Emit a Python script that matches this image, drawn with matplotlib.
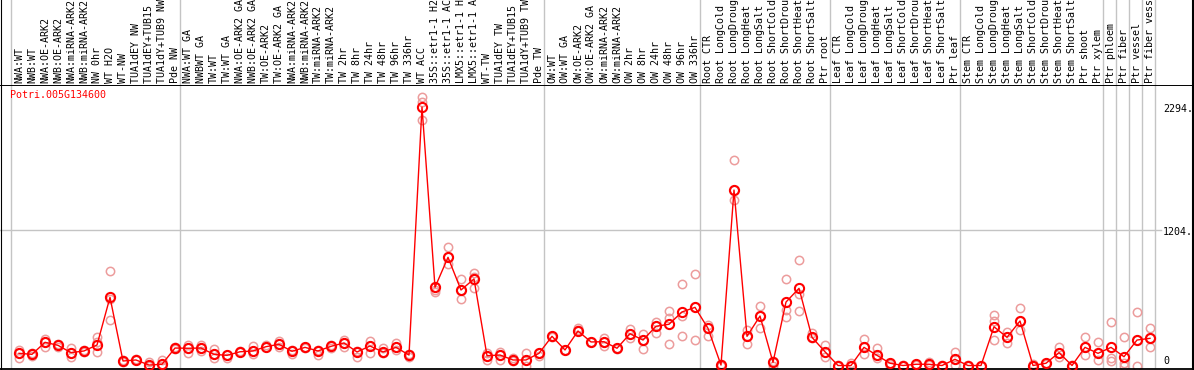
import matplotlib
matplotlib.use("Agg")
import matplotlib.pyplot as plt
from matplotlib.lines import Line2D

gene = "Potri.005G134600"

labels = [
    "NWA:WT", "NWB:WT", "NWA:OE-ARK2", "NWB:OE-ARK2", "NWA:miRNA-ARK2", "NWB:miRNA-ARK2",
    "NW 0hr", "WT H2O", "WT-NW", "TUA1dEY NW", "TUA1dEY+TUB15 NW", "TUA1dY+TUB9 NW", "Pde NW",
    "NWA:WT GA", "NWBWT GA", "TW:WT", "TW:WT GA", "NWA:OE-ARK2 GA", "NWB:OE-ARK2 GA",
    "TW:OE-ARK2", "TW:OE-ARK2 GA", "NWA:miRNA-ARK2", "NWB:miRNA-ARK2", "TW:miRNA-ARK2",
    "TW:miRNA-ARK2", "TW 2hr", "TW 8hr", "TW 24hr", "TW 48hr", "TW 96hr", "TW 336hr",
    "WT ACC", "35S::etr1-1 H2O", "35S::etr1-1 ACC", "LMX5::etr1-1 H2O", "LMX5::etr1-1 ACC",
    "WT-TW", "TUA1dEY TW", "TUA1dEY+TUB15 TW", "TUA1dY+TUB9 TW", "Pde TW",
    "OW:WT", "OW:WT GA", "OW:OE-ARK2", "OW:OE-ARK2 GA", "OW:miRNA-ARK2", "OW:miRNA-ARK2",
    "OW 2hr", "OW 8hr", "OW 24hr", "OW 48hr", "OW 96hr", "OW 336hr",
    "Root CTR", "Root LongCold", "Root LongDrought", "Root LongHeat", "Root LongSalt",
    "Root ShortCold", "Root ShortDrought", "Root ShortHeat", "Root ShortSalt", "Ptr root",
    "Leaf CTR", "Leaf LongCold", "Leaf LongDrought", "Leaf LongHeat", "Leaf LongSalt",
    "Leaf ShortCold", "Leaf ShortDrought", "Leaf ShortHeat", "Leaf ShortSalt", "Ptr leaf",
    "Stem CTR", "Stem LongCold", "Stem LongDrought", "Stem LongHeat", "Stem LongSalt",
    "Stem ShortCold", "Stem ShortDrought", "Stem ShortHeat", "Stem ShortSalt", "Ptr shoot",
    "Ptr xylem", "Ptr phloem", "Ptr fiber", "Ptr vessel", "Ptr fiber vessel",
]

means = [
    108, 99, 206, 179, 114, 129, 182, 605, 40, 49, 4, 11, 155,
    153, 155, 99, 90, 122, 129, 167, 188, 126, 161, 129, 170, 200, 120, 173, 120, 161, 93,
    2294, 694, 960, 670, 768, 87, 93, 49, 49, 108,
    259, 138, 306, 209, 211, 153, 282, 226, 348, 366, 475, 516,
    330, 4, 1557, 259, 439, 28, 563, 685, 250, 122,
    0, 0, 161, 90, 20, 0, 11, 11, 0, 55,
    0, 0, 344, 250, 395, 0, 20, 114, 0, 161, 108,
    161, 78, 226, 241,
]

reps = [
    [138, 64, 115], [114, 84, 99], [235, 161, 210], [191, 167, 180], [153, 78, 112],
    [138, 120, 129], [250, 211, 122], [836, 590, 404], [40, 35, 45], [49, 45, 55],
    [34, 0, 0], [49, 0, 0], [155, 150, 160],
    [179, 108, 153], [182, 131, 155], [149, 64, 99], [64, 90, 95], [122, 118, 126],
    [173, 102, 129], [182, 160, 167], [217, 161, 188], [138, 102, 126], [161, 155, 167],
    [93, 129, 135], [182, 153, 170], [226, 161, 200], [73, 120, 125], [217, 108, 173],
    [153, 108, 120], [197, 138, 161], [78, 93, 100], [2380, 2341, 2178], [670, 655, 694],
    [1049, 901, 960], [768, 590, 670], [818, 788, 690], [108, 49, 87], [122, 49, 93],
    [64, 49, 40], [108, 0, 49], [84, 108, 115],
    [259, 255, 262], [138, 135, 140], [330, 315, 306], [209, 205, 212], [247, 173, 211],
    [153, 150, 156], [321, 241, 282], [280, 146, 226], [389, 286, 348], [484, 424, 188],
    [721, 439, 262], [809, 226, 516],
    [359, 262, 330], [0, 4, 10], [1823, 1469, 1557], [315, 188, 259], [528, 330, 439],
    [28, 0, 40], [765, 492, 433], [936, 632, 484], [286, 241, 250], [182, 78, 122],
    [0, 0, 5], [0, 0, 20], [235, 99, 161], [153, 64, 90], [0, 20, 15], [0, 0, 5],
    [11, 15, 5], [28, 11, 5], [0, 0, 5], [120, 4, 55],
    [0, 0, 5], [0, 0, 0], [448, 398, 226], [300, 197, 250], [508, 315, 395], [0, 0, 10],
    [20, 25, 15], [167, 78, 114], [0, 0, 5], [250, 93, 161], [206, 49, 108],
    [383, 69, 43], [250, 20, 0], [475, 0, 226], [333, 167, 241],
]

group_starts = [0, 13, 41, 53, 63, 73, 84, 85, 86, 87, 88]
y_marks = [2294, 1204, 0]
y_texts = ["2294.", "1204.", "0"]

W, H = 1194, 370
mono = "DejaVu Sans Mono"
pink = "#ec9c9c"
grid = "#c4c4c4"

fig = plt.figure(figsize=(W / 100, H / 100), dpi=100)

# pixel layout: column 0 centre at x=19, 13 px per column
xl = (-19 / 13, (W - 19) / 13)
top_px = 85
bot_px = 369
zero_px = 365.5
ppu = (zero_px - 107) / 2294.0
ylo = -(bot_px - zero_px) / ppu
yhi = (zero_px - top_px) / ppu

ax = fig.add_axes([0, (H - bot_px) / H, 1, (bot_px - top_px) / H])
lab = fig.add_axes([0, (H - top_px) / H, 1, top_px / H])
for a in (ax, lab):
    a.set_xlim(*xl)
    a.set_xticks([])
    a.set_yticks([])
    for s in a.spines.values():
        s.set_visible(False)
    for g in group_starts:
        a.axvline(g - 0.58, color=grid, lw=1.0, zorder=0)
ax.set_ylim(ylo, yhi)
lab.set_ylim(0, 1)

ax.spines["top"].set_visible(True)
ax.spines["top"].set_linewidth(1.4)
ax.spines["bottom"].set_visible(True)
ax.spines["bottom"].set_linewidth(1.3)

ax.plot([xl[0], 87.85], [1204, 1204], color=grid, lw=1.0, zorder=0)

xs = list(range(len(means)))
for i, r in enumerate(reps):
    ax.plot([i] * len(r), r, "o", ms=6.0, mfc="none", mec=pink, mew=1.1, zorder=2)
ax.plot(xs, means, "-", color="red", lw=1.0, zorder=3)
ax.plot(xs, means, "o", ms=6.6, mfc="none", mec="red", mew=1.5, zorder=4)

for i, t in enumerate(labels):
    lab.text(i, 2 / top_px, t, rotation=90, ha="center", va="bottom",
             family=mono, fontsize=7.2, color="black", clip_on=True)

ax.text(-9 / 13, 2294 + 12 / ppu, gene, color="red", family=mono, fontsize=7.2,
        ha="left", va="center")

# value marks on the right side
for v, t in zip(y_marks, y_texts):
    off = 4 / ppu if v == 0 else -2 / ppu
    ax.text((1163 - 19) / 13, v + off, t, family=mono, fontsize=7.2,
            ha="left", va="center", clip_on=False)

# outer frame: left, right
fig.add_artist(Line2D([0.5 / W, 0.5 / W], [0, 1], color="black", lw=0.8,
                      transform=fig.transFigure))
fig.add_artist(Line2D([1 - 1.5 / W, 1 - 1.5 / W], [0, 1], color="black", lw=1.5,
                      transform=fig.transFigure))

fig.savefig("out.png", dpi=100)
